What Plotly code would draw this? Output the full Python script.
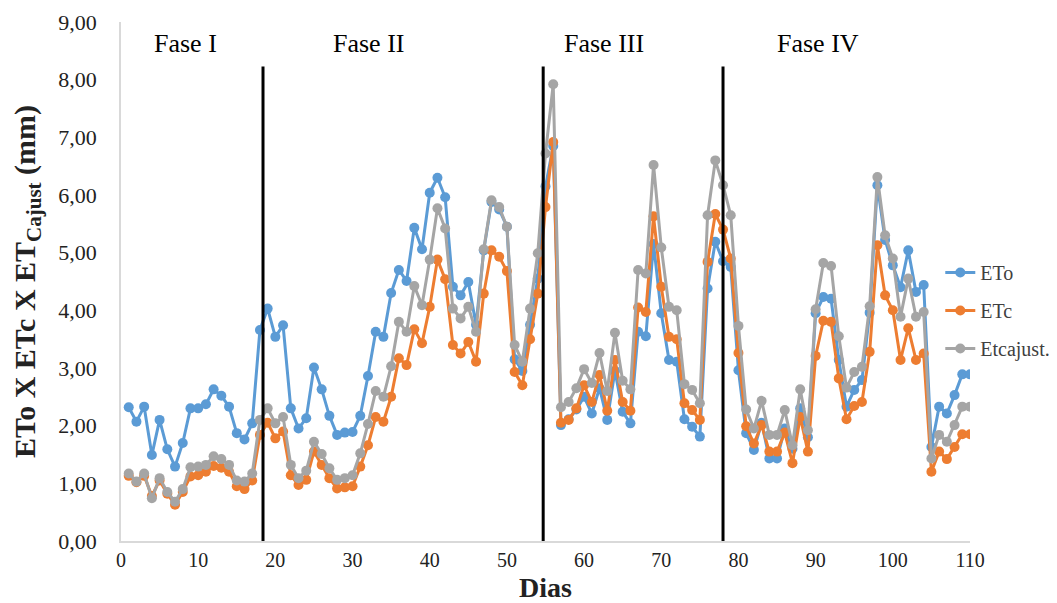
import plotly.graph_objects as go

days = list(range(1, 111))

eto = [2.32, 2.07, 2.33, 1.49, 2.10, 1.59, 1.29, 1.70, 2.30, 2.30,
       2.37, 2.63, 2.52, 2.33, 1.87, 1.76, 2.04, 3.66, 4.03, 3.54,
       3.74, 2.30, 1.95, 2.13, 3.01, 2.63, 2.17, 1.84, 1.88, 1.89,
       2.17, 2.86, 3.63, 3.54, 4.30, 4.70, 4.51, 5.43, 5.06, 6.04,
       6.30, 5.96, 4.41, 4.26, 4.49, 3.75, 5.04, 5.88, 5.75, 5.45,
       3.15, 2.95, 3.75, 4.55, 6.15, 6.85, 2.01, 2.11, 2.28, 2.50,
       2.21, 2.65, 2.10, 2.95, 2.24, 2.04, 3.63, 3.55, 5.15, 3.95,
       3.14, 3.11, 2.11, 1.98, 1.81, 4.38, 5.19, 4.85, 4.75, 2.96,
       1.87, 1.58, 2.05, 1.43, 1.43, 1.95, 1.60, 2.30, 1.80, 3.95,
       4.23, 4.20, 3.14, 2.33, 2.62, 2.79, 3.96, 6.17, 5.22, 4.78,
       4.40, 5.04, 4.32, 4.44, 1.63, 2.33, 2.21, 2.53, 2.89, 2.89]

etc = [1.13, 1.02, 1.13, 0.78, 1.05, 0.82, 0.63, 0.85, 1.12, 1.14,
       1.20, 1.30, 1.27, 1.20, 0.95, 0.90, 1.05, 1.84, 2.05, 1.78,
       1.90, 1.14, 0.97, 1.06, 1.55, 1.32, 1.09, 0.91, 0.93, 0.95,
       1.29, 1.66, 2.15, 2.07, 2.50, 3.17, 3.05, 3.67, 3.43, 4.06,
       4.88, 4.54, 3.40, 3.25, 3.45, 3.11, 4.29, 5.04, 4.93, 4.68,
       2.93, 2.70, 3.50, 4.29, 5.79, 6.92, 2.05, 2.10, 2.30, 2.70,
       2.41, 2.88, 2.26, 3.14, 2.41, 2.26, 4.05, 3.97, 5.63, 4.41,
       3.54, 3.50, 2.39, 2.27, 2.10, 4.84, 5.67, 5.40, 4.90, 3.26,
       1.99, 1.69, 2.01, 1.55, 1.55, 1.88, 1.35, 2.15, 1.55, 3.21,
       3.82, 3.80, 2.82, 2.11, 2.34, 2.41, 3.28, 5.13, 4.26, 4.00,
       3.14, 3.69, 3.14, 3.25, 1.20, 1.55, 1.42, 1.63, 1.85, 1.85]

etcajust = [1.17, 1.03, 1.17, 0.74, 1.09, 0.85, 0.68, 0.90, 1.28, 1.29,
            1.32, 1.47, 1.42, 1.32, 1.05, 1.03, 1.17, 2.10, 2.30, 2.04,
            2.15, 1.32, 1.09, 1.22, 1.72, 1.51, 1.26, 1.06, 1.09, 1.14,
            1.52, 2.03, 2.60, 2.50, 3.03, 3.80, 3.63, 4.42, 4.09, 4.88,
            5.77, 5.42, 4.03, 3.86, 4.06, 3.63, 5.06, 5.91, 5.79, 5.45,
            3.40, 3.11, 4.03, 4.99, 6.72, 7.92, 2.32, 2.41, 2.65, 2.98,
            2.74, 3.26, 2.60, 3.61, 2.78, 2.63, 4.70, 4.64, 6.52, 5.09,
            4.06, 4.00, 2.72, 2.62, 2.39, 5.65, 6.60, 6.17, 5.65, 3.73,
            2.28, 1.95, 2.43, 1.84, 1.84, 2.27, 1.66, 2.63, 1.92, 4.02,
            4.82, 4.77, 3.55, 2.66, 2.93, 3.02, 4.07, 6.31, 5.30, 4.90,
            3.89, 4.55, 3.89, 3.97, 1.43, 1.84, 1.72, 2.01, 2.33, 2.33]

phase_labels = ["Fase I", "Fase II", "Fase III", "Fase IV"]
phase_label_x = [8.3, 32.1, 62.6, 90.3]
phase_bounds = [18.4, 54.7, 78.0]

x_ticks = [0, 10, 20, 30, 40, 50, 60, 70, 80, 90, 100, 110]
y_ticks = [0, 1, 2, 3, 4, 5, 6, 7, 8, 9]

FONT = "Liberation Serif"
TXT = "#222222"

fig = go.Figure()
series = [("ETo", eto, "#5B9BD5"), ("ETc", etc, "#ED7D31"), ("Etcajust.", etcajust, "#A5A5A5")]
for name, vals, col in series:
    fig.add_trace(go.Scatter(
        x=days, y=vals, name=name, mode="lines+markers", legendgroup=name,
        line=dict(color=col, width=3),
        marker=dict(color=col, size=10),
    ))

for xb in phase_bounds:
    fig.add_shape(type="line", x0=xb, x1=xb, y0=0, y1=8.23, xref="x", yref="y",
                  line=dict(color="black", width=3))

for lab, lx in zip(phase_labels, phase_label_x):
    fig.add_annotation(x=lx, y=8.63, text=lab, showarrow=False,
                       font=dict(family=FONT, size=26, color="black"))

# page body adds an 8px offset; margins compensate so the plot area sits at x 121-970, y 22-541
fig.update_layout(
    width=1057, height=603,
    margin=dict(l=113, r=95, t=14, b=70, autoexpand=False),
    paper_bgcolor="white", plot_bgcolor="white",
    separators=",.",
    font=dict(family=FONT, size=20, color=TXT),
    showlegend=True,
    legend=dict(x=0.965, y=0.555, xanchor="left", yanchor="top",
                bgcolor="rgba(0,0,0,0)", font=dict(family=FONT, size=20, color="#404040"),
                tracegroupgap=9, itemwidth=30),
    xaxis=dict(range=[0, 110], tickvals=x_ticks, showgrid=False, zeroline=False,
               showline=True, linecolor="#D9D9D9", linewidth=1.5, ticks="",
               automargin=False,
               tickfont=dict(family=FONT, size=20, color=TXT),
               title=dict(text="<b>Dias</b>", font=dict(family=FONT, size=28, color=TXT), standoff=8)),
    yaxis=dict(range=[0, 9], tickvals=y_ticks, tickformat=".2f", showgrid=False, zeroline=False,
               showline=True, linecolor="#D9D9D9", linewidth=1.5, ticks="",
               automargin=False, ticklabelstandoff=18,
               tickfont=dict(family=FONT, size=22, color=TXT),
               title=dict(text="<b>ETo X ETc X ET<sub>Cajust</sub> (mm)</b>",
                          font=dict(family=FONT, size=30, color=TXT), standoff=16)),
)

fig.write_html("out.html")
